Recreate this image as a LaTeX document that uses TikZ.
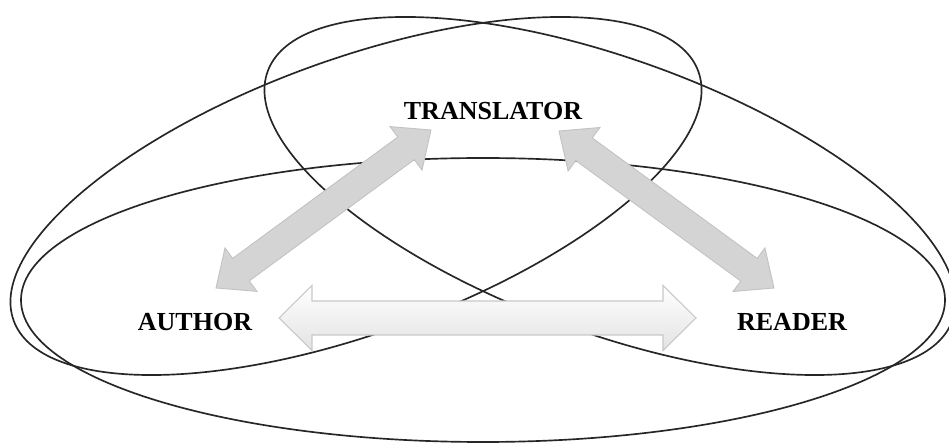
\documentclass[tikz,border=0pt]{standalone}
\usepackage{fontspec}
\setmainfont{Liberation Serif}
\usetikzlibrary{calc}

\definecolor{arrowgray}{HTML}{D4D4D4}
\definecolor{arrowedge}{HTML}{C2C2C2}
\definecolor{lightedge}{HTML}{C8C8C8}

\tikzset{
  loop/.style={draw=black!85, line width=0.95pt},
  role/.style={font=\fontsize{14.8}{17}\selectfont\bfseries, inner sep=0pt},
  diagarrow/.style={fill=arrowgray, draw=arrowedge, line width=0.5pt},
  flatarrow/.style={top color=white, bottom color=gray!22, draw=lightedge, line width=0.6pt},
}

% double-headed block arrow: name, style, tip A, tip B,
% shaft half width, head half width, head length
\newcommand\blockarrow[7]{%
  \coordinate (#1-ba) at ($(#3)!#7!(#4)$);
  \coordinate (#1-bb) at ($(#4)!#7!(#3)$);
  \path[#2] (#3)
    -- ($(#1-ba)!#6!90:(#4)$)
    -- ($(#1-ba)!#5!90:(#4)$)
    -- ($(#1-bb)!#5!-90:(#3)$)
    -- ($(#1-bb)!#6!-90:(#3)$)
    -- (#4)
    -- ($(#1-bb)!#6!90:(#3)$)
    -- ($(#1-bb)!#5!90:(#3)$)
    -- ($(#1-ba)!#5!-90:(#4)$)
    -- ($(#1-ba)!#6!-90:(#4)$)
    -- cycle;
}

\begin{document}
\begin{tikzpicture}[x=0.02cm, y=-0.02cm]
  \useasboundingbox[fill=white] (0,0) rectangle (949,445);

  % the three overlapping fields
  \draw[loop] (483,300) ellipse [x radius=462, y radius=142];
  \draw[loop, rotate around={20:(356,196)}] (356,196) ellipse [x radius=364.3, y radius=136.8];
  \draw[loop, rotate around={-20:(610,196)}] (610,196) ellipse [x radius=364.3, y radius=136.8];

  % roles
  \node[role] (translator) at (493,111) {TRANSLATOR};
  \node[role] (author) at (195,322) {AUTHOR};
  \node[role] (reader) at (792,322) {READER};

  % arrow ends next to the roles
  \coordinate (at-a) at (216,288);
  \coordinate (at-t) at (431,130);
  \coordinate (tr-t) at (559,131);
  \coordinate (tr-r) at (774,288);
  \coordinate (ar-a) at (279,318);
  \coordinate (ar-r) at (696,318);

  \blockarrow{at}{diagarrow}{at-a}{at-t}{0.28cm}{0.54cm}{0.62cm}
  \blockarrow{tr}{diagarrow}{tr-t}{tr-r}{0.28cm}{0.54cm}{0.62cm}
  \blockarrow{ar}{flatarrow}{ar-a}{ar-r}{0.34cm}{0.65cm}{0.66cm}
\end{tikzpicture}
\end{document}
